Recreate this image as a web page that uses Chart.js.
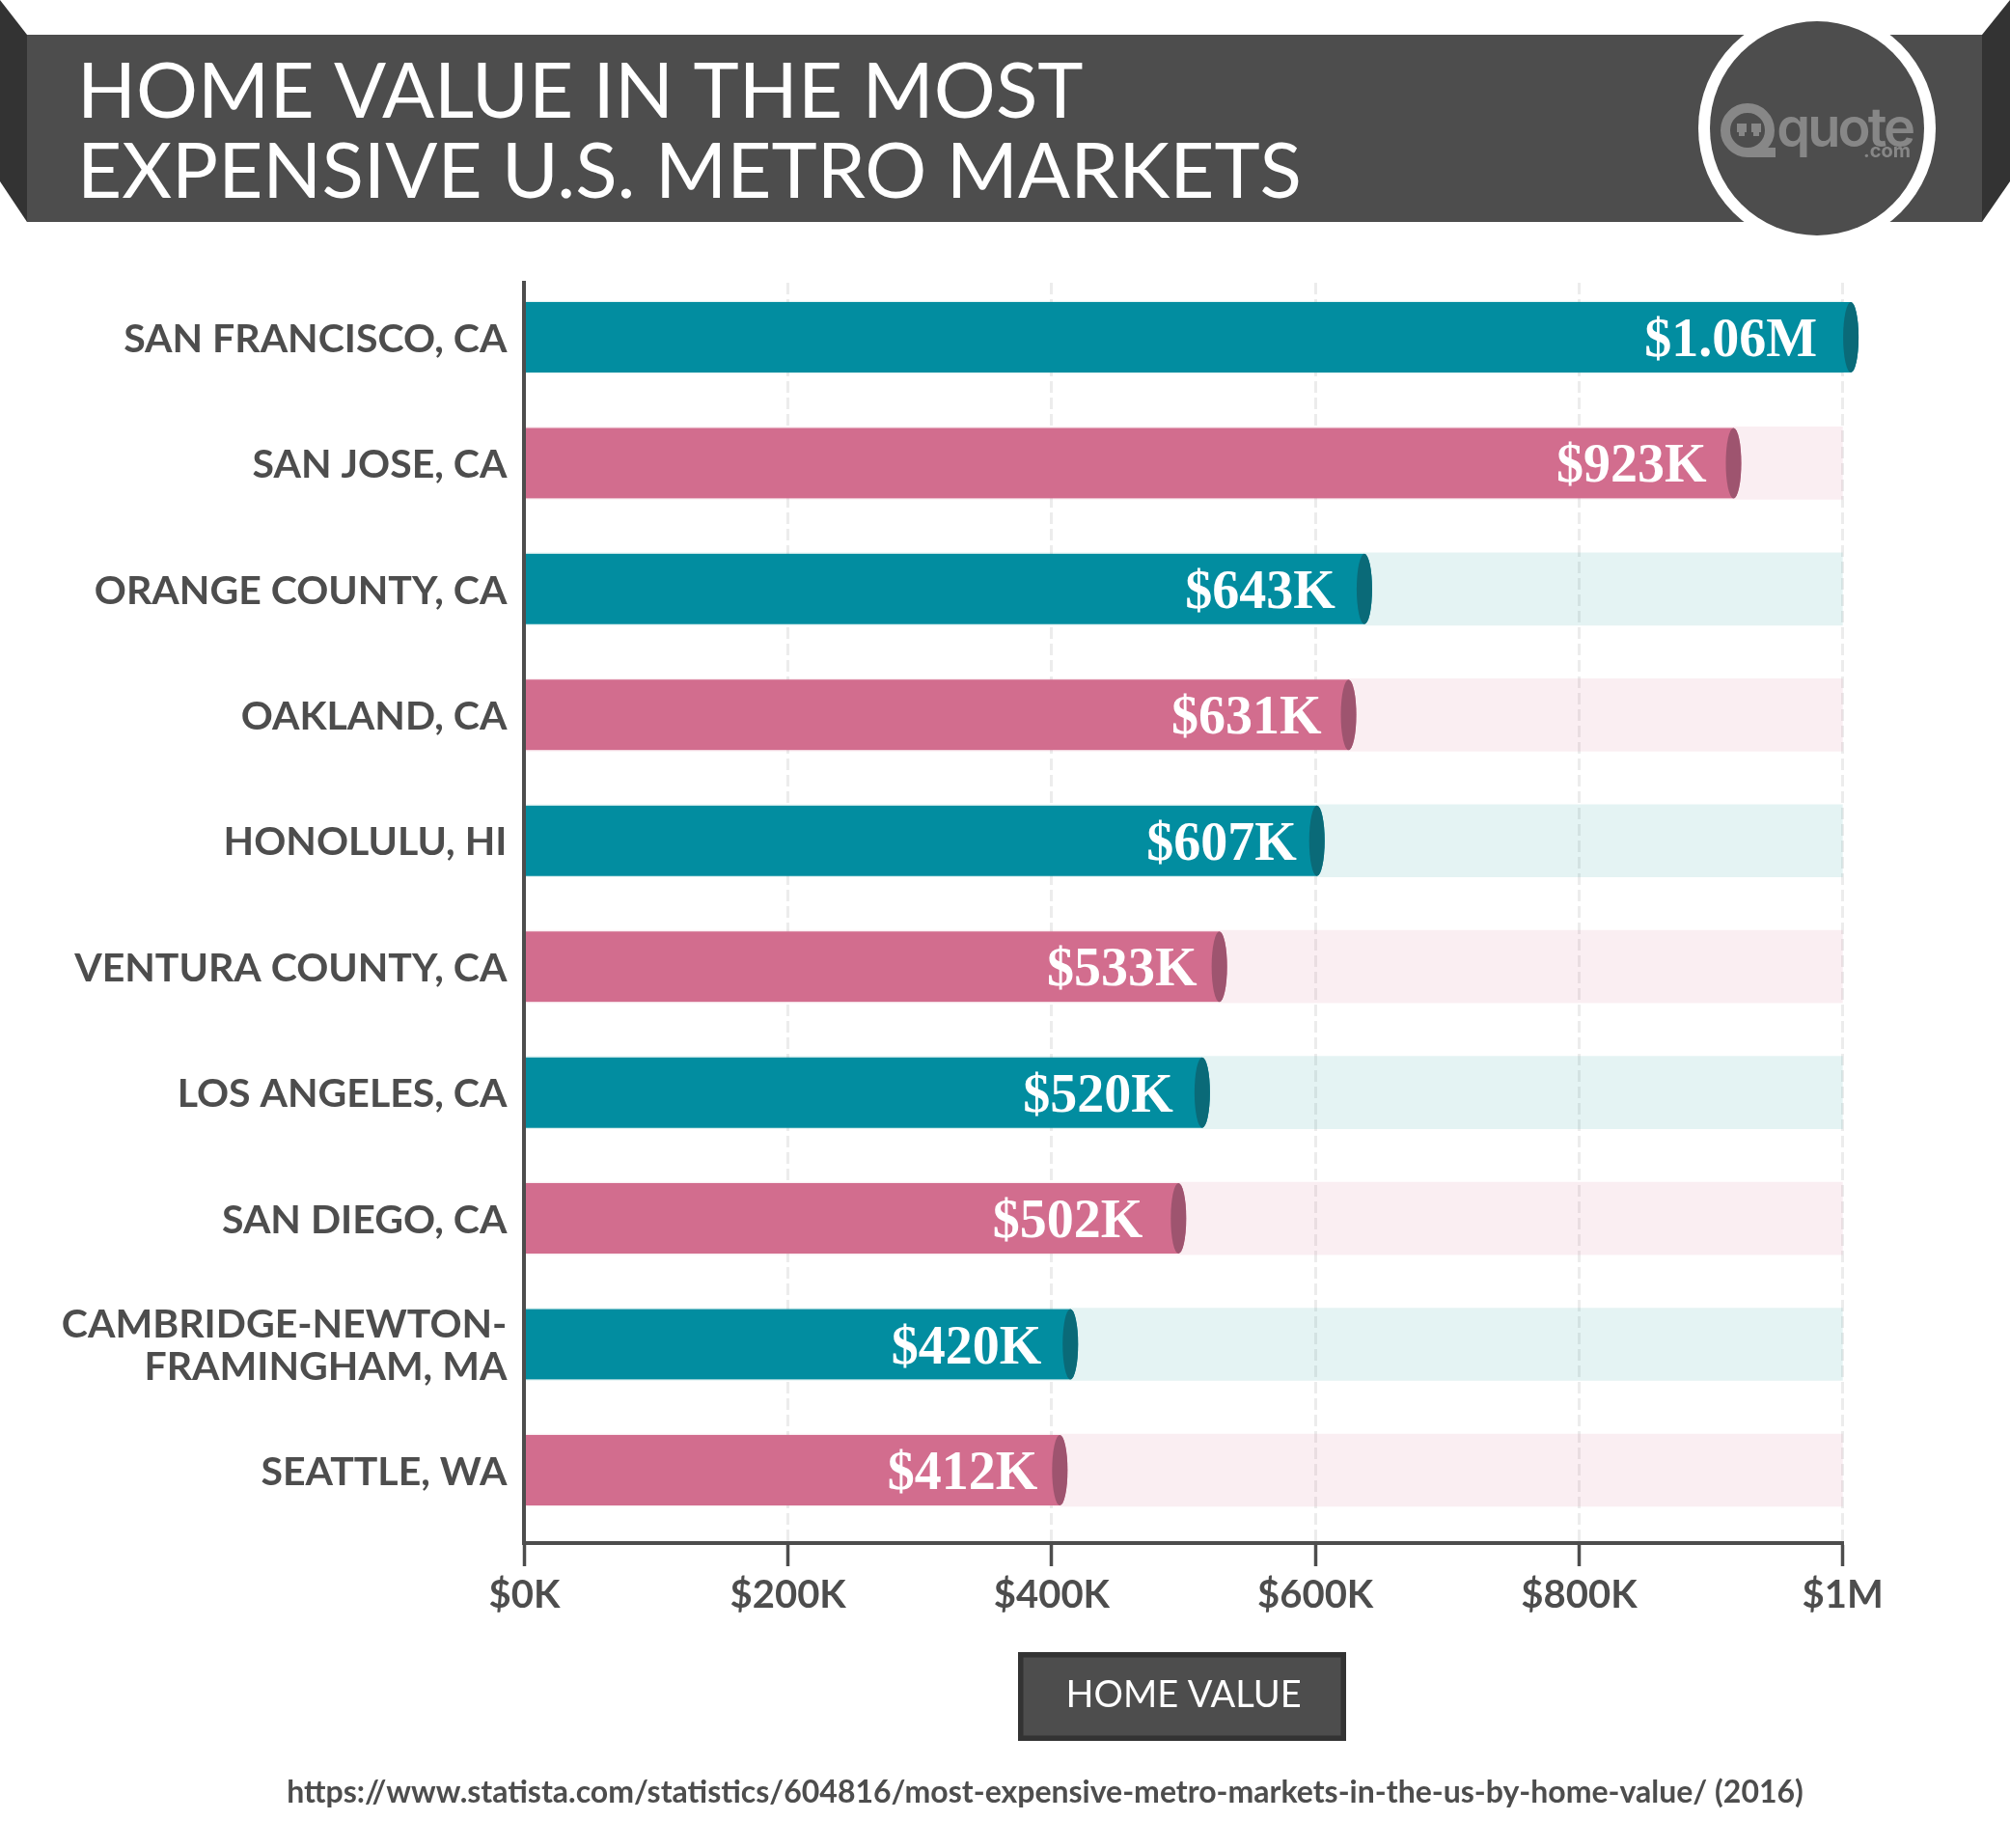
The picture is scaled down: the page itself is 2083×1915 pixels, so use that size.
<!DOCTYPE html>
<html>
<head>
<meta charset="utf-8">
<style>html,body{margin:0;padding:0;background:#fff}canvas{display:block}</style>
<script src="https://cdn.jsdelivr.net/npm/chart.js@4"></script>
</head>
<body>
<canvas id="c" width="2083" height="1915"></canvas>
<script>
const titleLines = ['HOME VALUE IN THE MOST', 'EXPENSIVE U.S. METRO MARKETS'];
const categories = ['SAN FRANCISCO, CA','SAN JOSE, CA','ORANGE COUNTY, CA','OAKLAND, CA','HONOLULU, HI','VENTURA COUNTY, CA','LOS ANGELES, CA','SAN DIEGO, CA',['CAMBRIDGE-NEWTON-','FRAMINGHAM, MA'],'SEATTLE, WA'];
const homeValues = [1060,923,643,631,607,533,520,502,420,412];
const valueLabels = ['$1.06M','$923K','$643K','$631K','$607K','$533K','$520K','$502K','$420K','$412K'];
const trackValues = [1000,1000,1000,1000,1000,1000,1000,1000,1000,1000];
const xTickValues = [0,200,400,600,800,1000];
const xTickLabels = ['$0K','$200K','$400K','$600K','$800K','$1M'];
const xAxisTitle = 'HOME VALUE';
const sourceText = 'https://www.statista.com/statistics/604816/most-expensive-metro-markets-in-the-us-by-home-value/ (2016)';

// The reference lets the tallest bar stop just past the $1M tick instead of drawing it to scale.
const overshootCap = 1012;
const plottedValues = homeValues.map(v => Math.min(v, overshootCap));

const INK = '#4d4d4d', DARK = '#333333';
const SOLID = ['#028da0', '#d26d8e'];
const CAP = ['#0a6a78', '#9e546f'];
const TRACK = ['rgba(0,140,140,0.105)', 'rgba(210,109,142,0.115)'];
const labelGaps = [27,20,22,20,13,15,22,29,22,15];
const CAP_RX = 8;

const headerPlugin = {
  id: 'header',
  afterLayout(chart) {
    // let the long two-line category label run left of the title's margin without being clipped
    chart.scales.y.left = 0;
  },
  beforeDraw(chart) {
    const c = chart.ctx;
    c.save();
    c.fillStyle = '#fff';
    c.fillRect(0, 0, chart.width, chart.height);
    c.fillStyle = DARK;
    c.beginPath(); c.moveTo(0,0); c.lineTo(28,36); c.lineTo(28,230); c.lineTo(0,188); c.closePath(); c.fill();
    c.beginPath(); c.moveTo(2083,0); c.lineTo(2054,36); c.lineTo(2054,230); c.lineTo(2083,188); c.closePath(); c.fill();
    c.fillStyle = INK;
    c.fillRect(28, 36, 2026, 194);
    c.fillStyle = '#fff';
    c.beginPath(); c.arc(1883, 133, 123, 0, Math.PI * 2); c.fill();
    c.fillStyle = INK;
    c.beginPath(); c.arc(1883, 133, 111, 0, Math.PI * 2); c.fill();
    // logo
    const g = '#878787';
    c.strokeStyle = g; c.lineWidth = 10;
    c.beginPath(); c.arc(1811, 135, 23, 0, Math.PI * 2); c.stroke();
    c.fillStyle = g;
    c.fillRect(1811, 153, 29, 10);
    c.fillRect(1800, 128, 10, 9); c.fillRect(1815, 128, 10, 9);
    c.fillRect(1802, 137, 6, 4); c.fillRect(1817, 137, 6, 4);
    c.font = '600 56px Inter';
    c.textAlign = 'right'; c.textBaseline = 'alphabetic';
    c.letterSpacing = '-3px';
    c.fillText('quote', 1982, 152);
    c.letterSpacing = '0px';
    c.font = '700 20px Inter';
    c.fillText('.com', 1980, 163);
    // axis-title plate
    c.fillStyle = DARK;
    c.fillRect(1055, 1712, 340, 92);
    c.fillStyle = INK;
    c.fillRect(1060.5, 1717.5, 329, 81);
    c.restore();
  },
  beforeDatasetDraw(chart, args) {
    if (args.index !== 0) return;
    const c = chart.ctx, bars = chart.getDatasetMeta(0).data;
    c.save();
    c.beginPath();
    bars.forEach(b => {
      const top = b.y - b.height / 2;
      c.rect(b.base, top, b.x - CAP_RX - b.base, b.height);
      c.moveTo(b.x, b.y);
      c.ellipse(b.x - CAP_RX, b.y, CAP_RX, b.height / 2, 0, 0, Math.PI * 2);
    });
    c.clip();
  },
  afterDatasetDraw(chart, args) {
    if (args.index !== 0) return;
    const c = chart.ctx, bars = chart.getDatasetMeta(0).data;
    c.restore();
    c.save();
    bars.forEach((b, i) => {
      c.fillStyle = CAP[i % 2];
      c.beginPath();
      c.ellipse(b.x - CAP_RX, b.y, CAP_RX, b.height / 2, 0, 0, Math.PI * 2);
      c.fill();
      c.fillStyle = '#fff';
      c.font = 'bold 56px "Liberation Serif"';
      c.textAlign = 'right';
      c.textBaseline = 'alphabetic';
      c.fillText(valueLabels[i], b.x - 2 * CAP_RX - labelGaps[i], b.y + 19.5);
    });
    c.restore();
  },
  afterDraw(chart) {
    const c = chart.ctx;
    c.save();
    c.fillStyle = INK;
    c.font = 'bold 32px Lato';
    c.textAlign = 'center';
    c.textBaseline = 'middle';
    c.fillText(sourceText, 1083, 1858);
    c.restore();
  }
};

new Chart(document.getElementById('c'), {
  type: 'bar',
  plugins: [headerPlugin],
  data: {
    datasets: [
      { data: plottedValues.map((v, i) => ({ x: v, y: i })), order: 1, grouped: false, clip: false,
        barThickness: 73, backgroundColor: categories.map((_, i) => SOLID[i % 2]), borderWidth: 0 },
      { data: trackValues.map((v, i) => ({ x: v, y: i })), order: 2, grouped: false,
        barThickness: 75, backgroundColor: categories.map((_, i) => TRACK[i % 2]), borderWidth: 0 }
    ]
  },
  options: {
    indexAxis: 'y',
    responsive: false,
    animation: false,
    devicePixelRatio: 1,
    layout: { autoPadding: false, padding: { left: 80, right: 173.3, top: 0, bottom: 0 } },
    plugins: {
      legend: { display: false },
      tooltip: { enabled: false },
      title: {
        display: true, text: titleLines, align: 'start', color: '#fff',
        font: { family: 'Lato', size: 80, weight: 'normal', lineHeight: 83 / 80 },
        padding: { top: 55, bottom: 72 }
      }
    },
    scales: {
      x: {
        type: 'linear', min: 0, max: 1000,
        afterBuildTicks: s => { s.ticks = xTickValues.map(value => ({ value })); },
        afterFit: s => { s.height = 316; },
        grid: { color: '#ececec', lineWidth: 3, tickColor: INK, tickWidth: 3.5, tickLength: 24, tickBorderDash: [] },
        border: { color: INK, width: 4, z: 1, dash: [12, 5] },
        ticks: { color: INK, padding: 6, maxRotation: 0, autoSkip: false, font: { family: 'Lato', size: 40, weight: 'bold' },
                 callback: (v, i) => xTickLabels[i] },
        title: { display: true, text: xAxisTitle, color: '#fff', padding: { bottom: 134, top: 0 },
                 font: { family: 'Lato', size: 38, weight: 'normal', lineHeight: 48 / 38 } }
      },
      y: {
        type: 'linear', reverse: true, min: -0.433, max: 9.579, offset: false, bounds: 'data',
        afterBuildTicks: s => { s.ticks = categories.map((_, value) => ({ value })); },
        afterFit: s => { s.width = 463.4; },
        grid: { display: false, drawTicks: false, offset: false },
        border: { color: INK, width: 4, z: 1 },
        ticks: { color: INK, padding: 18, labelOffset: 2, autoSkip: false, font: { family: 'Lato', size: 41, weight: 'bold', lineHeight: 44 / 41 },
                 callback: v => categories[v] }
      }
    }
  }
});
</script>
</body>
</html>
